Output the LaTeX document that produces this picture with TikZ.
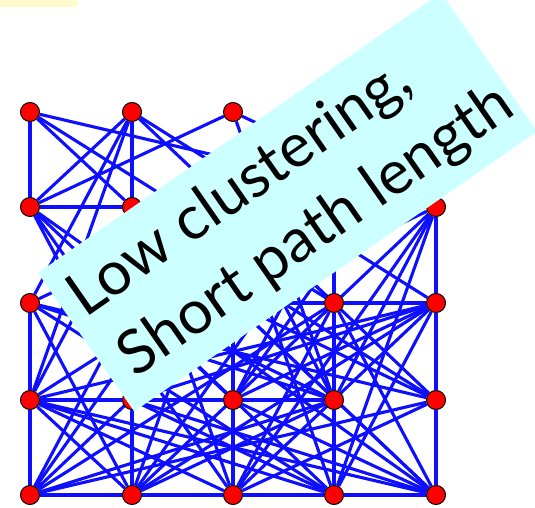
\documentclass[tikz,border=0pt]{standalone}
\usepackage{fontspec}
\setmainfont{Lato}
\usetikzlibrary{backgrounds}
\definecolor{edgeblue}{RGB}{15,15,255}
\definecolor{notecyan}{RGB}{204,255,255}
\definecolor{tabyellow}{RGB}{255,251,204}
\begin{document}
\begin{tikzpicture}[x=1pt,y=1pt,
  vtx/.style={circle,fill=red,draw=black,line width=1pt,minimum size=19pt,inner sep=0pt},
  link/.style={draw=edgeblue,line width=3.1pt},
  notetext/.style={anchor=base west,inner sep=0pt,transform shape,font=\fontsize{61}{66}\selectfont}]
\useasboundingbox (0,0) rectangle (535,508);
% small tab in the top-left corner
\fill[tabyellow] (0,501) rectangle (77,508);
% 5x5 grid of vertices, v<column><row>, row 0 at the top
\foreach \c/\x in {0/30,1/132,2/233,3/334,4/436}
  \foreach \r/\y in {0/396,1/301,2/205,3/108,4/13}
    \node[vtx] (v\c\r) at (\x,\y) {};
% edges: remaining lattice links plus many random long-range links
\begin{pgfonlayer}{background}
\foreach \a/\b in {00/01,10/11,01/11,02/03,03/04,03/13,13/23,13/14,22/23,23/24,23/33,
    31/32,32/33,33/34,22/32,32/42,41/42,42/43,43/44,04/14,14/24,24/34,34/44,12/13,
    00/41,00/32,00/11,10/01,10/02,10/03,10/42,10/32,20/01,20/33,20/41,
    01/13,01/24,01/23,01/44,02/21,02/33,02/14,02/43,
    03/24,03/34,03/14,03/31,03/11,04/12,04/22,04/33,04/43,04/32,04/21,
    14/21,14/42,14/31,14/33,14/41,24/11,24/32,24/42,24/43,24/41,
    34/12,34/13,34/21,34/42,34/41,34/02,44/13,44/22,44/32,44/23,44/03,44/11,
    43/22,43/11,43/21,42/13,42/23,42/03,41/33,41/22,33/21,33/12,23/31,23/40,12/30}
  \draw[link] (v\a) -- (v\b);
\end{pgfonlayer}
% rotated label card
\begin{scope}[shift={(38,235)},rotate=34.8]
  \fill[notecyan] (0,0) rectangle (490.7,-168.6);
  \node[notetext] (l1) at (13,-64) {Low clustering,};
  \node[notetext] (l2) at (20,-142) {Short path length};
\end{scope}
\end{tikzpicture}
\end{document}
